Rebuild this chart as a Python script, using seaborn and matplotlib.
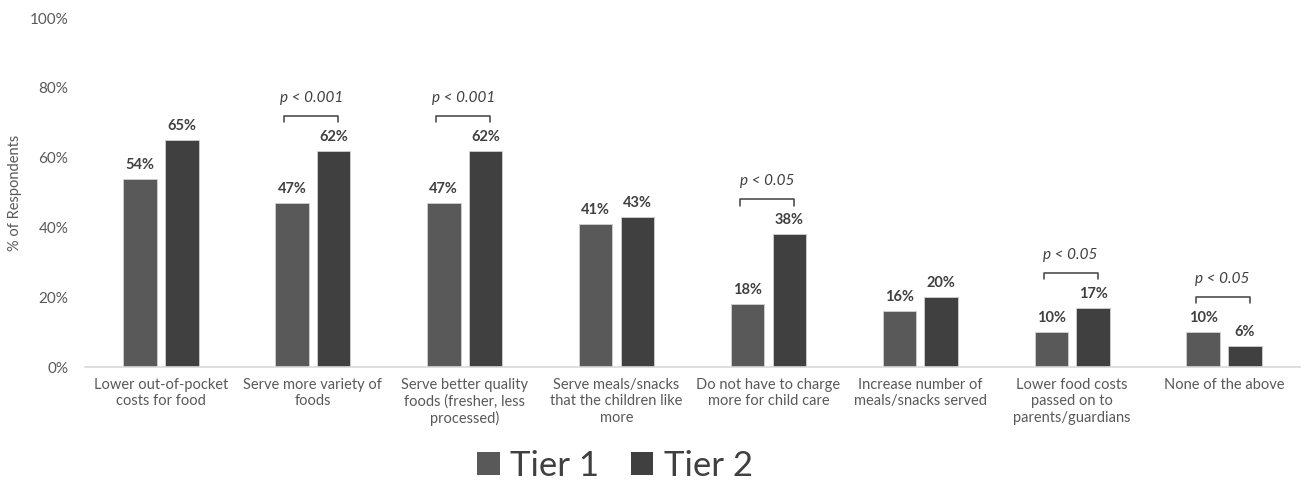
import pandas as pd
import seaborn as sns
import matplotlib.pyplot as plt
from matplotlib.patches import Patch

# Chart data
categories = [
    "Lower out-of-pocket\ncosts for food",
    "Serve more variety of\nfoods",
    "Serve better quality\nfoods (fresher, less\nprocessed)",
    "Serve meals/snacks\nthat the children like\nmore",
    "Do not have to charge\nmore for child care",
    "Increase number of\nmeals/snacks served",
    "Lower food costs\npassed on to\nparents/guardians",
    "None of the above",
]
tier1 = [54, 47, 47, 41, 18, 16, 10, 10]
tier2 = [65, 62, 62, 43, 38, 20, 17, 6]
significance = [None, "p < 0.001", "p < 0.001", None, "p < 0.05", None, "p < 0.05", "p < 0.05"]
tiers = ["Tier 1", "Tier 2"]
colors = ["#595959", "#404040"]

df = pd.DataFrame({
    "category": categories * 2,
    "tier": ["Tier 1"] * len(categories) + ["Tier 2"] * len(categories),
    "value": tier1 + tier2,
})

sns.set_style("white")
plt.rcParams["font.family"] = ["Lato", "DejaVu Sans"]

fig = plt.figure(figsize=(13.06, 4.9), dpi=100)
ax = fig.add_axes([85 / 1306, 1 - 367 / 490, 1215 / 1306, 349 / 490])

sns.barplot(data=df, x="category", y="value", hue="tier", palette=colors,
            width=0.55, gap=0.2, edgecolor="#d0d0d0", linewidth=0.6,
            legend=False, ax=ax)

ax.set_ylim(0, 100)
ax.set_xlim(-0.5, len(categories) - 0.5)
ax.set_yticks(range(0, 101, 20))
ax.set_yticklabels([f"{t}%" for t in range(0, 101, 20)], color="#595959", fontsize=11)
ax.tick_params(axis="x", colors="#595959", labelsize=10.5, length=0, pad=8)
ax.tick_params(axis="y", length=0, pad=12)
ax.set_xlabel("")
ax.set_ylabel("% of Respondents", color="#595959", fontsize=10.5)
ax.yaxis.set_label_coords(-0.052, 0.5)
for side in ["top", "right", "left"]:
    ax.spines[side].set_visible(False)
ax.spines["bottom"].set_color("#d9d9d9")
ax.spines["bottom"].set_linewidth(1.2)

# value labels
for container in ax.containers:
    ax.bar_label(container, labels=[f"{v:.0f}%" for v in container.datavalues],
                 padding=5, fontsize=10.5, fontweight="bold", color="#404040")

# significance brackets
c1, c2 = ax.containers[0], ax.containers[1]
for i, label in enumerate(significance):
    if label is None:
        continue
    b1, b2 = c1[i], c2[i]
    xa = b1.get_x() + b1.get_width() / 2 - 0.05
    xb = b2.get_x() + b2.get_width() / 2 + 0.03
    top = max(tier1[i], tier2[i]) + 10
    ax.plot([xa, xa, xb, xb], [top - 1.8, top, top, top - 1.8],
            color="#404040", lw=1.1, clip_on=False)
    ax.text((xa + xb) / 2, top + 3.2, label, ha="center", va="bottom",
            fontsize=11, style="italic", color="#404040")

handles = [Patch(facecolor=c, edgecolor="none") for c in colors]
fig.legend(handles, tiers, loc="center", bbox_to_anchor=(0.471, 0.05),
           ncol=2, frameon=False, fontsize=25, handlelength=0.65, handleheight=0.65,
           handletextpad=0.3, columnspacing=0.9, labelcolor="#404040")

fig.savefig("out.png", dpi=100)
